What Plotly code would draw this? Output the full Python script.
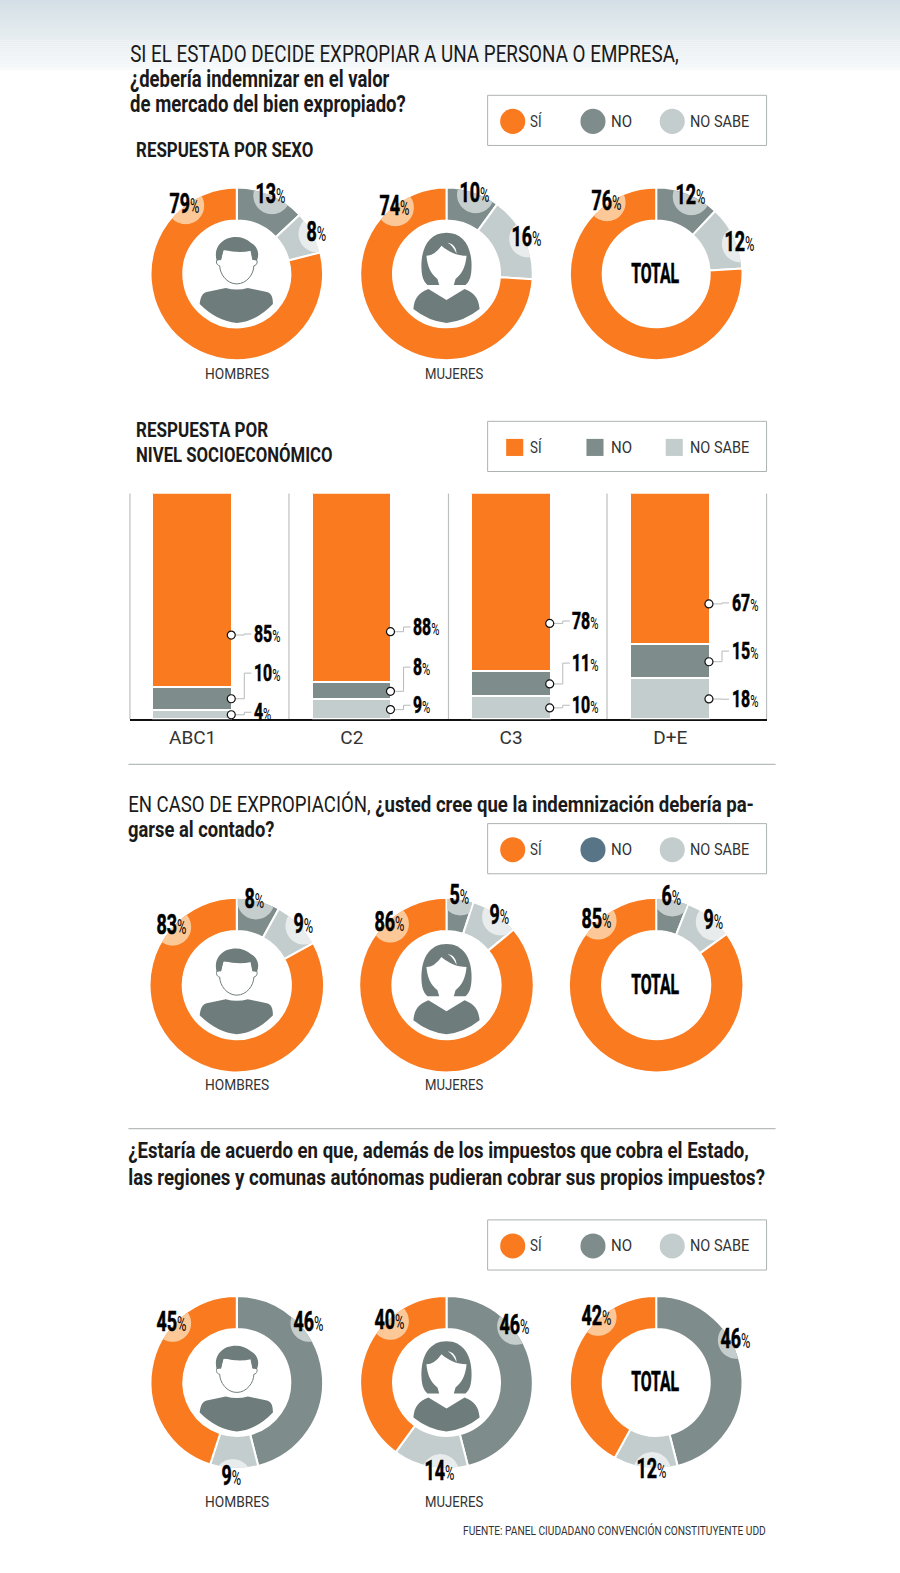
"""Encuesta expropiacion: donuts y barras por nivel socioeconomico."""
import json
import numpy as np
import plotly.graph_objects as go

W, H = 900, 1573
# all positions below are measured on an 897x1568 sheet, the axes stretch it to the page
SHEET_W, SHEET_H = 897, 1568
ORANGE, GRAY, LIGHT = "#F97A1F", "#7F8C8C", "#C4CDCD"
TINTS = ["#FDC897", "#C5CDCD", "#E8ECEC"]
ICON = "#6F7C7C"
FONT = "Roboto"
INK = "#1a1a1a"

# values: si, no, no sabe
p1_hombres = [79, 13, 8]
p1_mujeres = [74, 10, 16]
p1_total = [76, 12, 12]
p2_hombres = [83, 8, 9]
p2_mujeres = [86, 5, 9]
p2_total = [85, 6, 9]
p3_hombres = [45, 46, 9]
p3_mujeres = [40, 46, 14]
p3_total = [42, 46, 12]

nse_labels = ["ABC1", "C2", "C3", "D+E"]
nse_si = [85, 88, 78, 67]
nse_no = [10, 8, 11, 15]
nse_ns = [4, 9, 10, 18]

# where each donut sits and where its three labels go (si, no, no sabe)
donuts = [
    (p1_hombres, 236, 273, 86, [(184, 203), (270, 193), (315, 231)]),
    (p1_mujeres, 445, 273, 86, [(393, 205), (473, 192), (525, 236)]),
    (p1_total, 654, 273, 86, [(604, 200), (688, 194), (737, 241)]),
    (p2_hombres, 236, 982, 87, [(171, 922), (254, 896), (302, 921)]),
    (p2_mujeres, 445, 982, 87, [(388, 919), (458, 892), (498, 912)]),
    (p2_total, 654, 982, 87, [(595, 916), (669, 893), (711, 917)]),
    (p3_hombres, 236, 1378, 86, [(171, 1317), (307, 1317), (231, 1471)]),
    (p3_mujeres, 445, 1378, 86, [(388, 1315), (513, 1320), (438, 1466)]),
    (p3_total, 654, 1378, 86, [(595, 1311), (733, 1334), (649, 1464)]),
]

fig = go.Figure()
shapes = []
notes = []
squeeze = []  # one entry per annotation, used by the page script at the end


def text(x, y, s, size=16, anchor="left", color=INK, fit=None, k=None, heavy=False):
    # plotly pads the annotation box a little, take it back so edges land where measured
    x = x - 1.5 if anchor == "left" else x + 1.5 if anchor == "right" else x
    notes.append(dict(x=x, y=y, xref="x", yref="y", text=s, showarrow=False, xanchor=anchor, yanchor="middle",
                      font=dict(family=FONT, size=size, color=color)))
    squeeze.append(dict(fit=fit, k=k, a=anchor, heavy=heavy))


def pct(x, y, v, size=28, anchor="center", k=0.64):
    text(x, y, f"<b>{v}</b><span style='font-size:{int(size * 0.74)}px'>%</span>", size, anchor, "#000", k=k, heavy=True)


def path(d, fill, line=None, layer="above"):
    shapes.append(dict(type="path", path=d, xref="x", yref="y", fillcolor=fill, layer=layer,
                       line=dict(color=line or fill, width=1 if line else 0)))


def icon(d, cx, cy):
    # icon paths are written around (0,0)
    out = []
    for tok in d.split():
        if "," in tok:
            a, b = tok.split(",")
            out.append(f"{float(a) + cx},{float(b) + cy}")
        else:
            out.append(tok)
    return " ".join(out)


def man(cx, cy):
    path(icon("M -37,30 C -36,22 -34,19 -30,18 L -11,14 Q 0,17 11,14 L 30,18 C 34,19 36,22 36,30 "
              "Q 20,47 0,49 Q -20,47 -37,30 Z", cx, cy), ICON)
    path(icon("M -16,-14 C -21,-17 -22,-9 -17,-8 C -17,0 -10,10 0,10 C 10,10 17,0 17,-8 "
              "C 22,-9 21,-17 16,-14 L 14,-24 L -14,-24 Z", cx, cy), "white", ICON)
    path(icon("M -20,-13 C -23,-24 -18,-31 -10,-35 C -2,-38 8,-37 14,-31 C 21,-27 23,-20 20,-13 "
              "L 16,-14 L 14,-23 Q 2,-20 -13,-24 L -16,-14 Z", cx, cy), ICON)


def woman(cx, cy):
    path(icon("M 0,-41 C -16,-41 -25,-28 -25,-8 C -25,2 -23,8 -19,11 L 19,11 C 23,8 25,2 25,-8 "
              "C 25,-28 16,-41 0,-41 Z", cx, cy), ICON)
    path(icon("M -20,-18 Q -12,-18 -5,-28 C 2,-22 10,-18 20,-18 C 19,-8 16,0 9,5 L 7,12 L 18,15 "
              "L 0,26 L -18,15 L -7,12 L -9,5 C -16,0 -19,-8 -20,-18 Z", cx, cy), "white")
    path(icon("M 1,-31 C 7,-30 10,-26 10,-20 C 8,-25 5,-29 1,-31 Z", cx, cy), "white")
    path(icon("M -33,35 C -32,24 -28,19 -18,15 L 0,26 L 18,15 C 28,19 32,24 33,35 Q 18,47 0,49 "
              "Q -18,47 -33,35 Z", cx, cy), ICON)


def bubble(cx, cy, R, rin, a0, a1, bx, by, br, color):
    # circle behind the label, cut to the slice it belongs to
    t = np.linspace(0, 2 * np.pi, 72, endpoint=False)
    dx = bx + br * np.cos(t) - cx
    dy = by + br * np.sin(t) - cy
    r = np.clip(np.hypot(dx, dy), rin, R)
    tc = np.degrees(np.arctan2(bx - cx, cy - by))
    th = np.degrees(np.arctan2(dx, -dy))
    th = tc + ((th - tc + 180) % 360 - 180)
    while tc < a0:
        tc += 360
        th += 360
    th = np.clip(th, a0 + 0.6, a1 - 0.6)
    xs = cx + r * np.sin(np.radians(th))
    ys = cy - r * np.cos(np.radians(th))
    d = "M " + " L ".join(f"{x:.1f},{y:.1f}" for x, y in zip(xs, ys)) + " Z"
    path(d, color)


def legend(y, square=False, no_color=GRAY):
    shapes.append(dict(type="rect", xref="x", yref="y", x0=486, x1=764, y0=y, y1=y + 50, fillcolor="white",
                       line=dict(color="#ADB2B2", width=1), layer="below"))
    for x, col, lab, wid in [(511, ORANGE, "SÍ", 12), (591, no_color, "NO", 21), (670, LIGHT, "NO SABE", 59)]:
        r = 8.5 if square else 12.5
        shapes.append(dict(type="rect" if square else "circle", xref="x", yref="y", x0=x - r + (2 if square else 0),
                           x1=x + r + (2 if square else 0), y0=y + 26 - r, y1=y + 26 + r, fillcolor=col,
                           line_width=0, layer="below"))
        text(x + 17, y + 26, lab, 16, color="#333", fit=wid)


# top band
for i in range(35):
    f = i / 34
    c = [int(213 + (246 - 213) * f), int(224 + (249 - 224) * f), int(230 + (250 - 230) * f)]
    shapes.append(dict(type="rect", xref="x", yref="y", x0=0, x1=SHEET_W, y0=i * 2, y1=i * 2 + 2,
                       fillcolor=f"rgb({c[0]},{c[1]},{c[2]})", line_width=0, layer="below"))

# donuts
for vals, cx, cy, R, spots in donuts:
    si, no, ns = vals
    fig.add_trace(go.Pie(values=[no, ns, si], labels=["NO", "NO SABE", "SÍ"], hole=0.62, sort=False,
                         direction="clockwise", rotation=0, textinfo="none", hoverinfo="label+value",
                         marker=dict(colors=[GRAY, LIGHT, ORANGE], line=dict(color="white", width=2)),
                         showlegend=False,
                         domain=dict(x=[(cx - R) / SHEET_W, (cx + R) / SHEET_W],
                                     y=[1 - (cy + R) / SHEET_H, 1 - (cy - R) / SHEET_H])))
    tot = float(no + ns + si)
    ranges = [(360 * (no + ns) / tot, 360), (0, 360 * no / tot), (360 * no / tot, 360 * (no + ns) / tot)]
    for v, (lx, ly), (a0, a1), tint in zip(vals, spots, ranges, TINTS):
        bubble(cx, cy, R - 1, R * 0.62, a0, a1, lx + 1, ly + 2, 18.5, tint)
        pct(lx, ly, v)

for cy, cap in [(273, 373), (982, 1082), (1378, 1497)]:
    man(236, cy)
    woman(445, cy)
    text(236, cap, "HOMBRES", 15, "center", "#333", fit=64)
    text(452, cap, "MUJERES", 15, "center", "#333", fit=58)
    text(653, cy, "<b>TOTAL</b>", 27, "center", "#000", fit=48, heavy=True)

# stacked bars, normalised because the rounded answers do not always add to 100
nse_x = list(range(len(nse_labels)))
for vals, col, name in [(nse_ns, LIGHT, "NO SABE"), (nse_no, GRAY, "NO"), (nse_si, ORANGE, "SÍ")]:
    fig.add_trace(go.Bar(x=nse_x, y=vals, name=name, xaxis="x2", yaxis="y2", width=0.495, showlegend=False,
                         marker=dict(color=col, line=dict(color="white", width=1.2))))

BAR_TOP, BAR_BOTTOM = 492, 717
dot_x, dot_y = [], []
label_y = [(632, 671, 710), (625, 665, 703), (619, 661, 703), (601, 649, 697)]
for i, (si, no, ns) in enumerate(zip(nse_si, nse_no, nse_ns)):
    tot = float(si + no + ns)
    share_ns, share_no, share_si = [100 * v / tot for v in (ns, no, si)]
    ys = [share_ns + share_no + share_si * 0.27, share_ns + share_no / 2, share_ns / 2]
    for v, y, ly in zip((si, no, ns), ys, label_y[i]):
        x = i + 0.2425
        dot_x.append(x)
        dot_y.append(y)
        px = 192 + 158.7 * x
        py = BAR_BOTTOM - y * (BAR_BOTTOM - BAR_TOP) / 100
        d = f"M {px:.1f},{py:.1f} L {px + 13:.1f},{py:.1f} L {px + 13:.1f},{ly} L {px + 20:.1f},{ly}"
        shapes.append(dict(type="path", path=d, xref="x", yref="y", line=dict(color="#B5BABA", width=1), layer="below"))
        pct(px + 22, ly, v, 24, "left", k=0.66)

fig.add_trace(go.Scatter(x=dot_x, y=dot_y, xaxis="x2", yaxis="y2", mode="markers", showlegend=False, hoverinfo="skip",
                         marker=dict(size=8, color="white", line=dict(color="#111", width=1.2))))

for x in [129.5, 288, 447, 605, 764]:
    shapes.append(dict(type="line", xref="x", yref="y", x0=x, x1=x, y0=BAR_TOP, y1=BAR_BOTTOM,
                       line=dict(color="#BDC0C0", width=1.2), layer="below"))
for y in [762, 1125]:
    shapes.append(dict(type="line", xref="x", yref="y", x0=128, x1=773, y0=y, y1=y,
                       line=dict(color="#B8BCBC", width=1.2), layer="below"))

legend(95)
legend(420, square=True)
legend(821, no_color="#587587")
legend(1216)

# headings
text(129, 54, "SI EL ESTADO DECIDE EXPROPIAR A UNA PERSONA O EMPRESA,", 24, fit=547)
text(129, 79, "<b>¿debería indemnizar en el valor</b>", 23, fit=259)
text(129, 104, "<b>de mercado del bien expropiado?</b>", 23, fit=275)
text(135, 150, "<b>RESPUESTA POR SEXO</b>", 20, fit=177)
text(135, 429, "<b>RESPUESTA POR</b>", 20, fit=132)
text(135, 454, "<b>NIVEL SOCIOECONÓMICO</b>", 20, fit=196)
text(127, 801, "EN CASO DE EXPROPIACIÓN, <b>¿usted cree que la indemnización debería pa-</b>", 22, fit=624)
text(127, 827, "<b>garse al contado?</b>", 22, fit=146)
text(127, 1147, "<b>¿Estaría de acuerdo en que, además de los impuestos que cobra el Estado,</b>", 22, fit=619)
text(127, 1174, "<b>las regiones y comunas autónomas pudieran cobrar sus propios impuestos?</b>", 22, fit=635)
text(764, 1526, "FUENTE: PANEL CIUDADANO CONVENCIÓN CONSTITUYENTE UDD", 12.5, "right", "#333", fit=302)

fig.update_layout(
    width=W, height=H, margin=dict(l=0, r=0, t=0, b=0), paper_bgcolor="white", plot_bgcolor="rgba(0,0,0,0)",
    barmode="stack", barnorm="percent", bargap=0, shapes=shapes, annotations=notes,
    xaxis=dict(range=[0, SHEET_W], visible=False, domain=[0, 1], fixedrange=True),
    yaxis=dict(range=[SHEET_H, 0], visible=False, domain=[0, 1], fixedrange=True),
    xaxis2=dict(domain=[129.5 / SHEET_W, 764 / SHEET_W], range=[(129.5 - 192) / 158.7, (764 - 192) / 158.7],
                anchor="y2", tickvals=nse_x, ticktext=nse_labels, showgrid=False, zeroline=False, showline=True,
                linecolor="#111", linewidth=1.5, layer="below traces", ticks="",
                tickfont=dict(family=FONT, size=19, color="#333")),
    yaxis2=dict(domain=[1 - BAR_BOTTOM / SHEET_H, 1 - BAR_TOP / SHEET_H], range=[0, 100], anchor="x2", visible=False),
)

# the newspaper face is condensed and none is installed, so narrow the real text in place
page_js = """
document.body.style.margin = '0';
var specs = %s;
document.querySelectorAll('.annotation-text').forEach(function (t, i) {
  var s = specs[i];
  var k = s.k || (s.fit ? %f * s.fit / t.getBBox().width : 1);
  t.style.transformBox = 'fill-box';
  t.style.transformOrigin = s.a + ' center';
  t.style.transform = 'scaleX(' + k + ')';
  if (s.heavy) {
    t.querySelectorAll('tspan').forEach(function (p) {
      if ((p.getAttribute('style') || '').indexOf('bold') >= 0) {
        p.style.stroke = '#000';
        p.style.strokeWidth = '0.6px';
      }
    });
  }
});
""" % (json.dumps(squeeze), W / SHEET_W)
fig.write_html("out.html", config={"displayModeBar": False}, post_script=page_js)
